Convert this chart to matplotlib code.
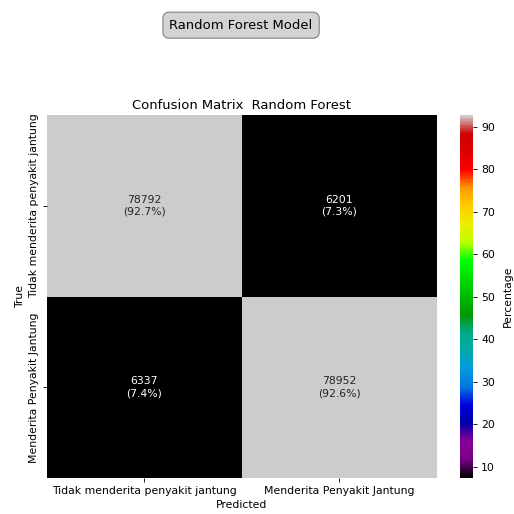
import matplotlib
matplotlib.use("Agg")
import matplotlib.pyplot as plt
import seaborn as sns
import numpy as np

# confusion matrix values
labels = ['Tidak menderita penyakit jantung', 'Menderita Penyakit Jantung']
row_true_neg = [78792, 6201]
row_true_pos = [6337, 78952]

cm = np.array([row_true_neg, row_true_pos])
pct = cm / cm.sum(axis=1, keepdims=True) * 100
annot = np.array([[f"{cm[i, j]}\n({pct[i, j]:.1f}%)" for j in range(2)] for i in range(2)])

DPI = 78.5
fig = plt.figure(figsize=(514 / DPI, 514 / DPI), dpi=DPI)
ax = fig.add_axes([0.091, 0.070, 0.759, 0.706])
cax = fig.add_axes([0.895, 0.070, 0.026, 0.706])

sns.heatmap(pct, annot=annot, fmt='', cmap='nipy_spectral', ax=ax, cbar_ax=cax,
            xticklabels=labels, yticklabels=labels,
            cbar_kws={'label': 'Percentage'})
ax.set_title('Confusion Matrix  Random Forest')
ax.set_xlabel('Predicted')
ax.set_ylabel('True')
plt.setp(ax.get_yticklabels(), rotation=90, va='center')
cax.yaxis.labelpad = 7

fig.suptitle('Random Forest Model', x=0.469, y=0.951, va='center',
             bbox=dict(boxstyle='round,pad=0.5', facecolor='lightgray', edgecolor='gray'))

fig.savefig('out.png', dpi=DPI)
